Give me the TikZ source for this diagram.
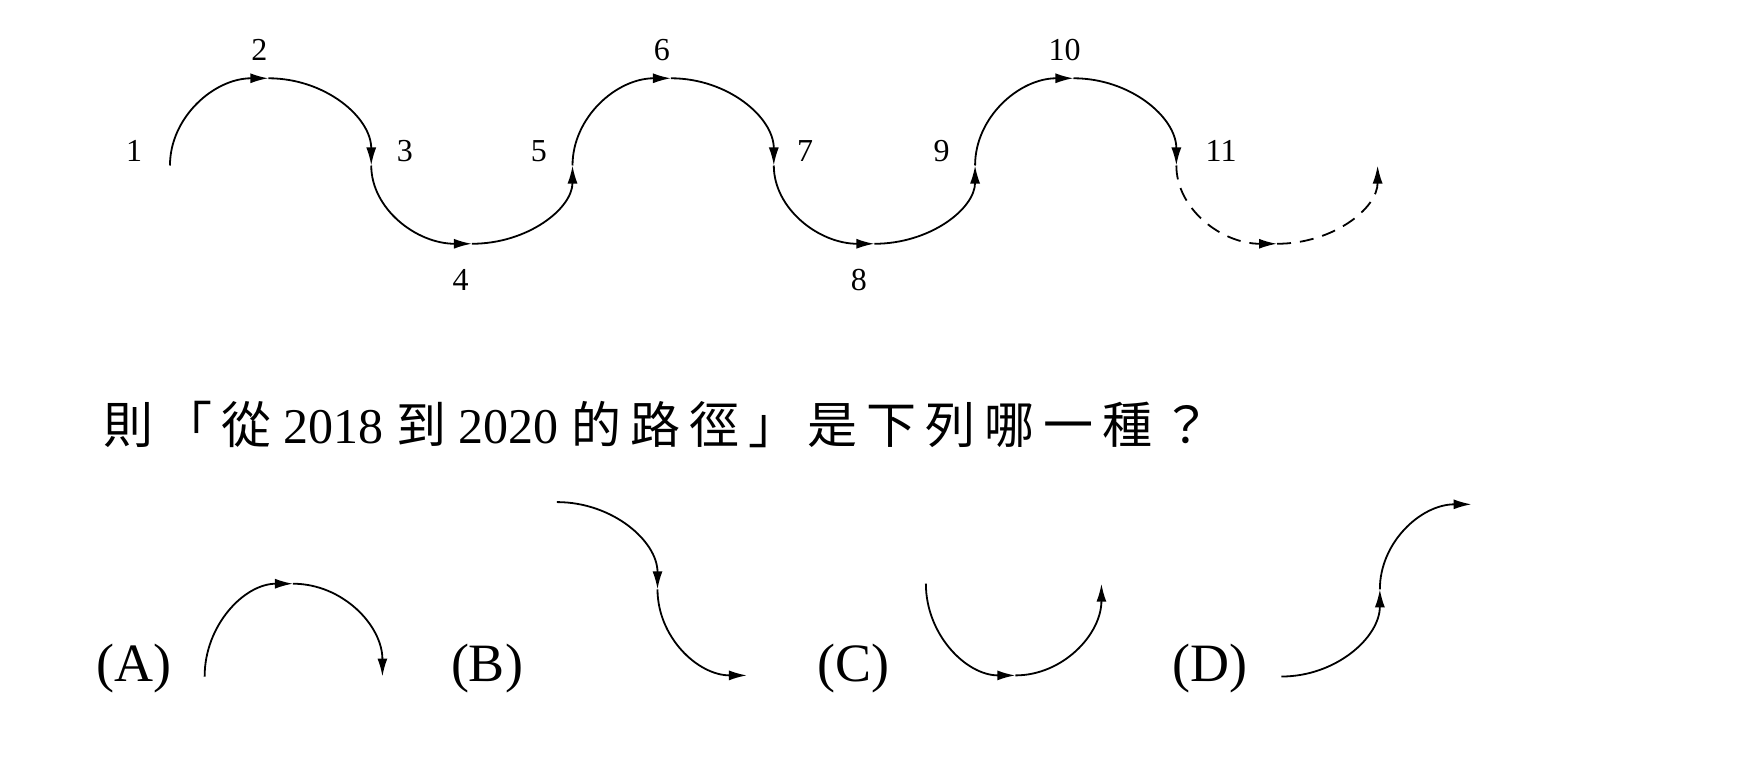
\documentclass[tikz,border=0pt]{standalone}
\usepackage{fontspec}
\setmainfont{Liberation Serif}
\newfontfamily\cjk[LetterSpace=18]{Noto Sans CJK TC}
\usetikzlibrary{arrows.meta}
\begin{document}
\begin{tikzpicture}[x=0.559pt,y=-0.559pt,
  cur/.style={line width=0.9pt,-{Latex[length=9pt,width=5pt]}},
  dcur/.style={cur,dash pattern=on 7pt off 4.5pt},
  num/.style={font=\fontsize{16}{16}\selectfont},
  opt/.style={font=\fontsize{27}{27}\selectfont,anchor=west}]
\path[use as bounding box] (0,0) rectangle (1565,698);
% top wave
\foreach \s/\k in {0/a,360/b,720/c}{
  \coordinate (p\k1) at (152+\s,148);
  \draw[cur] (p\k1) arc[start angle=180,end angle=270,x radius=88,y radius=78] coordinate (p\k2);
  \draw[cur] (p\k2) arc[start angle=270,end angle=360,x radius=92,y radius=78] coordinate (p\k3);
}
\foreach \s/\k in {0/a,360/b}{
  \draw[cur] (p\k3) arc[start angle=180,end angle=90,x radius=90,y radius=70] coordinate (p\k4);
  \draw[cur] (p\k4) arc[start angle=90,end angle=0,x radius=90,y radius=70] coordinate (p\k5);
}
\draw[dcur] (pc3) arc[start angle=180,end angle=90,x radius=90,y radius=70] coordinate (pc4);
\draw[dcur] (pc4) arc[start angle=90,end angle=0,x radius=90,y radius=70] coordinate (pc5);
\foreach \t/\x/\y in {1/120/135,2/232/45,3/362/135,4/412/250,5/482/135,6/592/45,7/720/135,8/768/250,9/842/135,10/952/45,11/1092/135}
  \node[num] (n\t) at (\x,\y) {\t};
% question
\node[anchor=west,font=\fontsize{25}{25}\selectfont] (q) at (86,380) {{\cjk 則「從}\ 2018\ {\cjk 到}\ 2020\ {\cjk 的路徑」是下列哪一種？}};
% options
\node[opt] (oA) at (80,598) {(A)};
\node[opt] (oB) at (397,598) {(B)};
\node[opt] (oC) at (725,598) {(C)};
\node[opt] (oD) at (1042,598) {(D)};
% A
\coordinate (a0) at (183,605);
\draw[cur] (a0) arc[start angle=180,end angle=270,x radius=79,y radius=83] coordinate (a1);
\draw[cur] (a1) arc[start angle=270,end angle=360,x radius=80,y radius=83];
% B
\coordinate (b0) at (498,449);
\draw[cur] (b0) arc[start angle=270,end angle=360,x radius=90,y radius=78] coordinate (b1);
\draw[cur] (b1) arc[start angle=180,end angle=90,x radius=80,y radius=77];
% C
\coordinate (c0) at (828,522);
\draw[cur] (c0) arc[start angle=180,end angle=90,x radius=80,y radius=82] coordinate (c1);
\draw[cur] (c1) arc[start angle=90,end angle=0,x radius=77,y radius=82];
% D
\coordinate (d0) at (1146,605);
\draw[cur] (d0) arc[start angle=90,end angle=0,x radius=88,y radius=78] coordinate (d1);
\draw[cur] (d1) arc[start angle=180,end angle=270,x radius=82,y radius=76];
\end{tikzpicture}
\end{document}
